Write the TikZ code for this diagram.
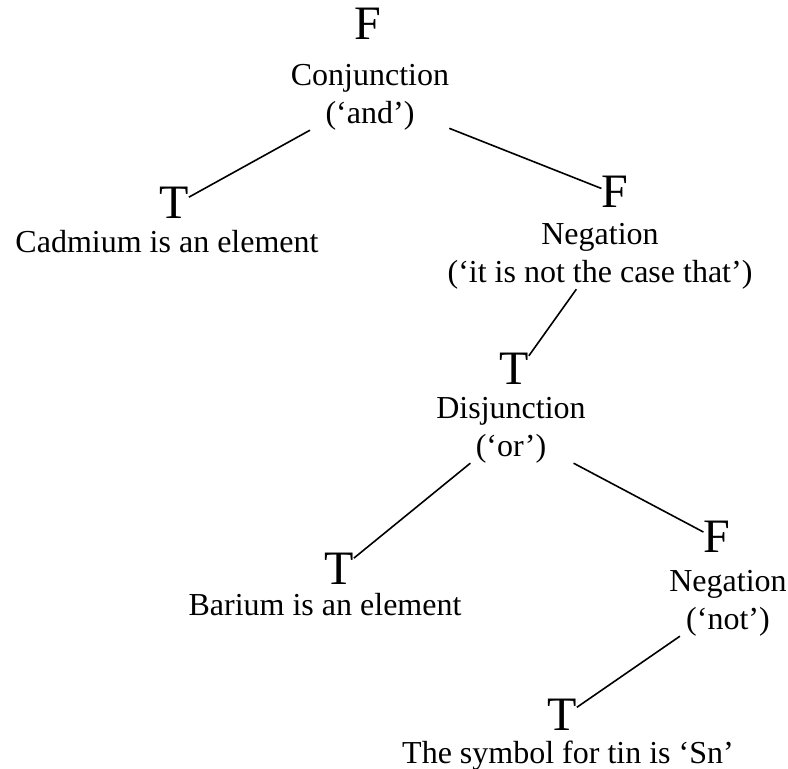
\documentclass[tikz,border=0pt]{standalone}
\usepackage{fontspec}
\setmainfont{Liberation Serif}

\begin{document}
\begin{tikzpicture}[
  x=1pt,
  y=-1pt,
  every node/.style={inner sep=0pt, text=black},
  truth/.style={font=\fontsize{48}{48}\selectfont},
  sentence/.style={font=\fontsize{32}{38}\selectfont, align=center},
  branch/.style={line width=1.6pt}
]
  \useasboundingbox (0,0) rectangle (788,769);

  % Root: conjunction
  \node[truth] (v1) at (368,24) {F};
  \node[sentence] (c1) at (370,97) {Conjunction\\(`and')};

  % Left leaf
  \node[truth] (v2) at (174,203) {T};
  \node[sentence, anchor=base] (c2) at (167,252) {Cadmium is an element};

  % Right: negation
  \node[truth] (v3) at (615,192) {F};
  \node[sentence] (c3) at (600,256) {Negation\\(`it is not the case that')};

  % Disjunction
  \node[truth] (v4) at (514,369) {T};
  \node[sentence] (c4) at (511,430) {Disjunction\\(`or')};

  % Barium leaf
  \node[truth] (v5) at (339,569) {T};
  \node[sentence, anchor=base] (c5) at (325,615) {Barium is an element};

  % Inner negation
  \node[truth] (v6) at (717,537) {F};
  \node[sentence] (c6) at (728,603) {Negation\\(`not')};

  % Tin leaf
  \node[truth] (v7) at (562,715) {T};
  \node[sentence, anchor=base] (c7) at (568,763) {The symbol for tin is `Sn'};

  % Branches
  \draw[branch] ([shift={(-43,46)}]c1) -- ([shift={(33,14)}]v2);
  \draw[branch] ([shift={(57,46)}]c1) -- ([shift={(-30,18)}]v3);
  \draw[branch] ([shift={(-5,41)}]c3) -- ([shift={(39,14)}]v4);
  \draw[branch] ([shift={(-53,52)}]c4) -- ([shift={(44,4)}]v5);
  \draw[branch] ([shift={(56,52)}]c4) -- ([shift={(-32,24)}]v6);
  \draw[branch] ([shift={(-29,41)}]c6) -- ([shift={(33,12)}]v7);
\end{tikzpicture}
\end{document}
